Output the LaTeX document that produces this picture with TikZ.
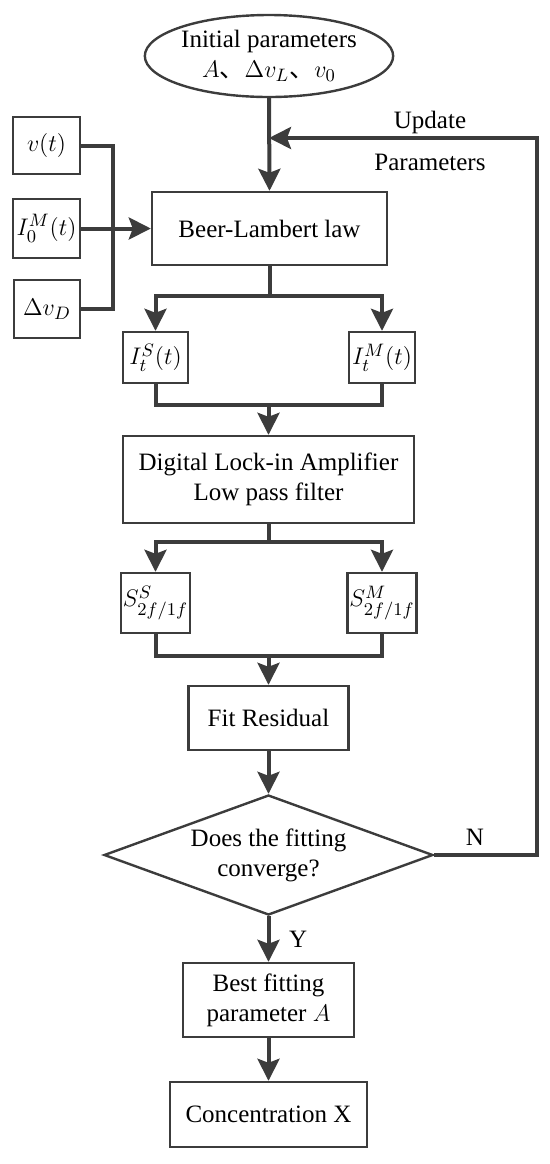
\documentclass[tikz,border=0pt]{standalone}
\usepackage{fontspec}
\setmainfont{Liberation Serif}
\newfontfamily\cjk{Noto Sans CJK SC}
\usepackage{amsmath}
\usepackage{tikz}
\usetikzlibrary{arrows.meta,positioning,shapes.geometric,calc}
\definecolor{linegray}{HTML}{3C3C3C}

\begin{document}
\begin{tikzpicture}[
    x=0.5pt, y=-0.5pt,
    font=\fontsize{12.5}{15}\selectfont,
    box/.style={rectangle, draw=linegray, line width=1.2pt, inner sep=1pt, align=center},
    startnode/.style={ellipse, draw=linegray, line width=1.2pt, inner sep=0pt, align=center, minimum width=121pt, minimum height=41pt},
    decision/.style={diamond, aspect=2.74, draw=linegray, line width=1.2pt, inner sep=0pt, align=center, minimum width=164.5pt, minimum height=60pt},
    line/.style={draw=linegray, line width=2pt},
    arrow/.style={line, -{Stealth[length=11pt, width=11pt, inset=2pt]}}
]
\useasboundingbox (0,0) rectangle (550,1164);

% Main column
\node[startnode] (init) at (269,56) {Initial parameters\\$A${\cjk 、}$\Delta v_L${\cjk 、}$v_0$};
\node[box, minimum width=117.5pt, minimum height=36.5pt] (beer) at (269.5,228.5) {Beer-Lambert law};
\node[box, minimum width=145.5pt, minimum height=43.5pt] (lockin) at (268.5,479.5) {Digital Lock-in Amplifier\\Low pass filter};
\node[box, minimum width=80pt, minimum height=32pt] (fit) at (268.5,718) {Fit Residual};
\node[decision] (conv) at (268.5,855) {Does the fitting\\converge?};
\node[box, minimum width=85.5pt, minimum height=37pt] (best) at (268.5,1000) {Best fitting\\parameter $A$};
\node[box, minimum width=98.5pt, minimum height=32.5pt] (conc) at (268.5,1114.5) {Concentration X};

% Inputs (left)
\node[box, minimum width=33.5pt, minimum height=28.5pt] (vt) at (46.5,145.5) {$v(t)$};
\node[box, minimum width=33.5pt, minimum height=29.5pt] (izero) at (46.5,228.5) {$I_0^M(t)$};
\node[box, minimum width=33pt, minimum height=29pt] (dvd) at (47,309) {$\Delta v_D$};

% Branches
\node[box, minimum width=32.5pt, minimum height=25.5pt] (its) at (155.5,357.5) {$I_t^S(t)$};
\node[box, minimum width=33pt, minimum height=25.5pt] (itm) at (382,357.5) {$I_t^M(t)$};
\node[box, minimum width=32.5pt, minimum height=30pt] (sss) at (155.5,603) {$S_{2f/1f}^S$};
\node[box, minimum width=33pt, minimum height=30pt] (ssm) at (382,603) {$S_{2f/1f}^M$};

\coordinate (bus) at (113,228.5);
\coordinate (split1) at (269.5,296);
\coordinate (join1) at (268.5,405);
\coordinate (split2) at (268.5,542);
\coordinate (join2) at (268.5,656);
\coordinate (corner) at (537,138);

% Connectors
\draw[arrow] (init.south) -- (beer.north);
\draw[line] (vt.east) -| (bus);
\draw[line] (dvd.east) -| (bus);
\draw[arrow] (izero.east) -- (beer.west);

\draw[line] (beer.south) -- (split1);
\draw[arrow] (split1) -| (its.north);
\draw[arrow] (split1) -| (itm.north);
\draw[line] (its.south) |- (join1);
\draw[line] (itm.south) |- (join1);
\draw[arrow] (join1) -- (lockin.north);

\draw[line] (lockin.south) -- (split2);
\draw[arrow] (split2) -| (sss.north);
\draw[arrow] (split2) -| (ssm.north);
\draw[line] (sss.south) |- (join2);
\draw[line] (ssm.south) |- (join2);
\draw[arrow] (join2) -- (fit.north);

\draw[arrow] (fit.south) -- (conv.north);
\draw[arrow] (conv.south) -- node[right=6pt] {Y} (best.north);
\draw[arrow] (best.south) -- (conc.north);

% Loop back
\draw[arrow] (conv.east) -| (corner) -- (init.south |- corner);
\node (upd) at (430,122) {Update};
\node (par) at (430,162) {Parameters};
\node (no) at (475,837) {N};
\end{tikzpicture}
\end{document}
